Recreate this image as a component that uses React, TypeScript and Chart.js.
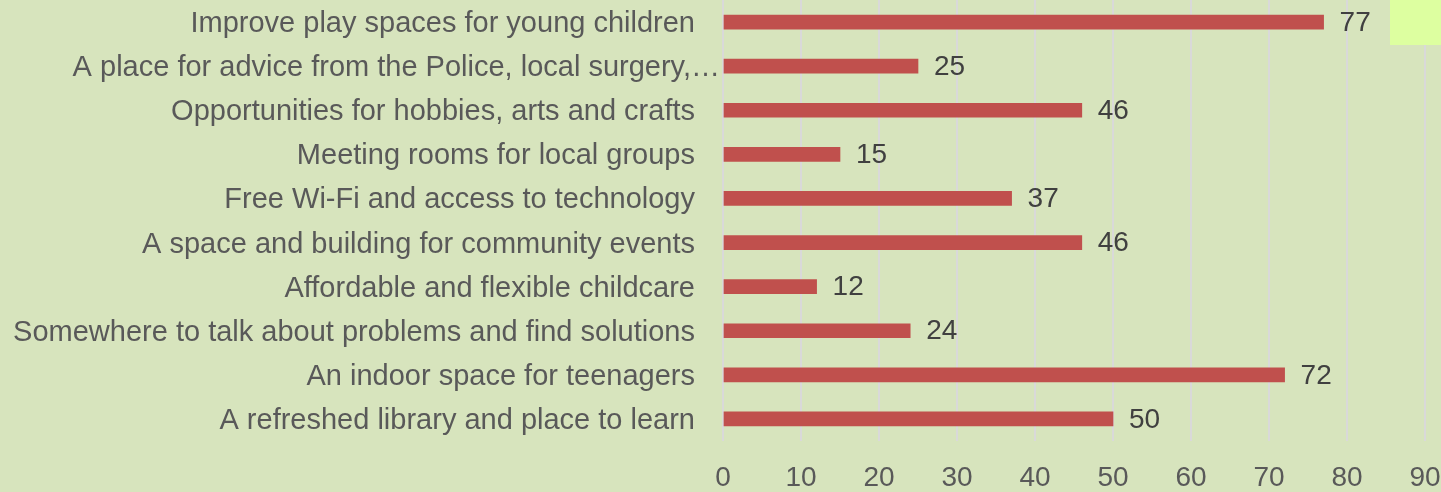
import React, { useEffect, useRef } from "react";
import { Chart, registerables } from "chart.js";

Chart.register(...registerables);

const categories: string[] = [
  "Improve play spaces for young children",
  "A place for advice from the Police, local surgery,…",
  "Opportunities for hobbies, arts and crafts",
  "Meeting rooms for local groups",
  "Free Wi-Fi and access to technology",
  "A space and building for community events",
  "Affordable and flexible childcare",
  "Somewhere to talk about problems and find solutions",
  "An indoor space for teenagers",
  "A refreshed library and place to learn",
];

const values: number[] = [77, 25, 46, 15, 37, 46, 12, 24, 72, 50];

const xTickLabels: string[] = ["0", "10", "20", "30", "40", "50", "60", "70", "80", "90"];

const FONT = "'Liberation Sans', Arial, sans-serif";

const dataLabelPlugin = {
  id: "dataLabels",
  afterDatasetsDraw(chart: any) {
    const ctx = chart.ctx;
    const meta = chart.getDatasetMeta(0);
    ctx.save();
    ctx.font = `28px ${FONT}`;
    ctx.fillStyle = "#404040";
    ctx.textAlign = "left";
    ctx.textBaseline = "middle";
    meta.data.forEach((bar: any, i: number) => {
      ctx.fillText(String(values[i]), bar.x + 16, bar.y + 1);
    });
    ctx.restore();
  },
};

// Nudge category labels: centre them on bars, and let the truncated (overflowing) label run up to the axis
const labelNudgePlugin = {
  id: "labelNudge",
  beforeDraw(chart: any) {
    const scale = chart.scales.y;
    const items = scale.getLabelItems();
    items.forEach((item: any, i: number) => {
      if (item._nudged) return;
      item._nudged = true;
      item.options.translation[1] += 2;
      if (categories[i].endsWith("…")) item.options.translation[0] += 25;
    });
  },
};

export default function App() {
  const canvasRef = useRef<HTMLCanvasElement | null>(null);

  useEffect(() => {
    document.body.style.margin = "0";
    const canvas = canvasRef.current;
    if (!canvas) return;
    const chart = new Chart(canvas, {
      type: "bar",
      data: {
        labels: categories,
        datasets: [
          {
            data: values,
            backgroundColor: "#C0504D",
            borderWidth: 0,
            barThickness: 14,
          },
        ],
      },
      options: {
        indexAxis: "y",
        animation: false,
        responsive: false,
        maintainAspectRatio: false,
        layout: { padding: { top: 0, right: 16, bottom: 0, left: 0 } },
        plugins: {
          legend: { display: false },
          tooltip: { enabled: false },
        },
        scales: {
          x: {
            min: 0,
            max: 90,
            ticks: {
              stepSize: 10,
              padding: 20,
              maxRotation: 0,
              color: "#595959",
              font: { family: FONT, size: 28 },
              callback: (_v: any, i: number) => xTickLabels[i],
            },
            grid: {
              color: "#D9D9D9",
              lineWidth: 2,
              drawTicks: false,
            },
            border: { display: false },
            afterFit: (scale: any) => {
              scale.height = 51;
              scale.paddingLeft = 0;
              scale.paddingRight = 0;
            },
          },
          y: {
            ticks: {
              padding: 28,
              color: "#595959",
              font: { family: FONT, size: 29 },
              autoSkip: false,
            },
            grid: { display: false, drawTicks: false },
            border: { display: false },
            afterFit: (scale: any) => {
              scale.width = 723;
              scale.paddingTop = 0;
              scale.paddingBottom = 0;
            },
          },
        },
      },
      plugins: [labelNudgePlugin, dataLabelPlugin],
    });
    return () => chart.destroy();
  }, []);

  return (
    <div
      style={{
        position: "absolute",
        left: 0,
        top: 0,
        width: 1441,
        height: 492,
        background: "#D7E4BD",
        overflow: "hidden",
      }}
    >
      <canvas ref={canvasRef} width={1441} height={492} style={{ display: "block" }} />
      <div
        style={{
          position: "absolute",
          left: 1390,
          top: 0,
          width: 51,
          height: 45,
          background: "#DDFFA0",
        }}
      />
    </div>
  );
}
